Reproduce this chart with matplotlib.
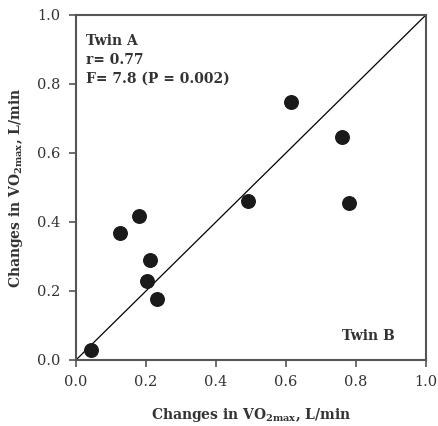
import matplotlib
matplotlib.use('Agg')
import matplotlib.pyplot as plt
import numpy as np

plt.rcParams['font.family'] = 'DejaVu Serif'
plt.rcParams['mathtext.fontset'] = 'dejavuserif'

# changes in VO2max (L/min), twin B on x, twin A on y
twin_b = [0.042, 0.126, 0.18, 0.211, 0.202, 0.232, 0.492, 0.613, 0.759, 0.781]
twin_a = [0.029, 0.367, 0.417, 0.29, 0.229, 0.176, 0.462, 0.747, 0.647, 0.454]
ticks = [0.0, 0.2, 0.4, 0.6, 0.8, 1.0]

fig = plt.figure(figsize=(4.38, 4.26), dpi=100)
ax = fig.add_axes([0.1735, 0.155, 0.799, 0.81])

ax.plot([0, 1], [0, 1], color='black', linewidth=0.9)
ax.scatter(twin_b, twin_a, s=95, color='#1a1a1a', zorder=3)

ax.set_xlim(0, 1)
ax.set_ylim(0, 1)
ax.set_xticks(ticks)
ax.set_yticks(ticks)
ax.set_xticklabels(['%.1f' % t for t in ticks], fontsize=10.5, color='#333333')
ax.set_yticklabels(['%.1f' % t for t in ticks], fontsize=10.5, color='#333333')
ax.tick_params(direction='out', length=5, width=1.2, color='#555555', pad=6)
for s in ax.spines.values():
    s.set_color('#555555')
    s.set_linewidth(1.5)

lab = r'Changes in VO$_{\mathbf{2max}}$, L/min'
ax.set_xlabel(lab, fontsize=10, fontweight='bold', color='#333333', labelpad=12)
ax.set_ylabel(lab, fontsize=10, fontweight='bold', color='#333333', labelpad=9)

ax.text(0.03, 0.945, 'Twin A\nr= 0.77\nF= 7.8 (P = 0.002)', fontsize=10,
        fontweight='bold', color='#333333', va='top', ha='left', linespacing=1.45)
ax.text(0.91, 0.07, 'Twin B', fontsize=10, fontweight='bold', color='#333333',
        va='center', ha='right')

fig.savefig('out.png', dpi=100)
